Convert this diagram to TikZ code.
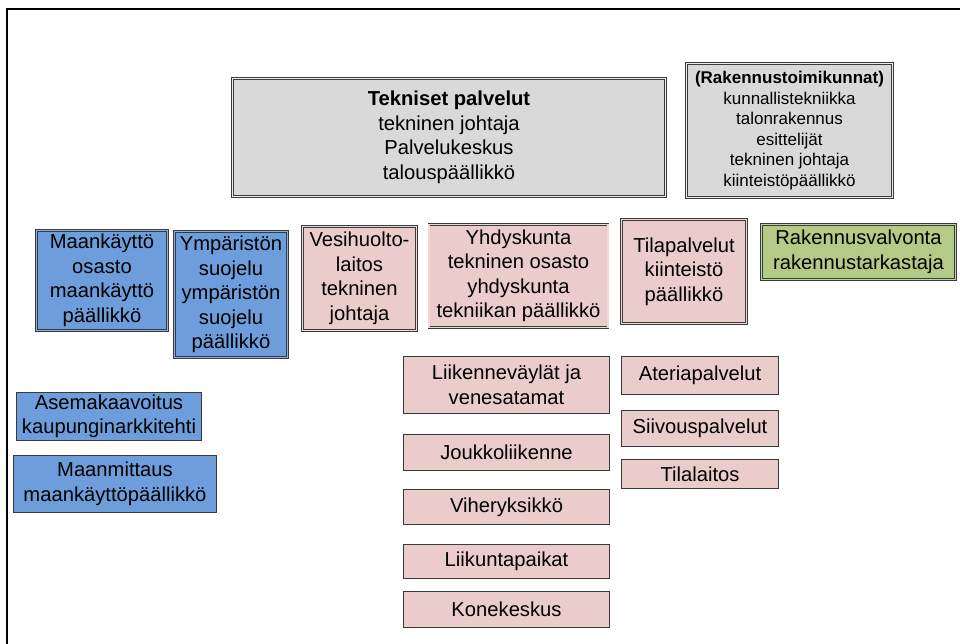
\documentclass[tikz,border=0pt]{standalone}
\usepackage{fontspec}
\setmainfont{Liberation Sans}
\definecolor{boxgray}{HTML}{D9D9D9}
\definecolor{boxblue}{HTML}{6D9EDB}
\definecolor{boxpink}{HTML}{EACCCB}
\definecolor{boxgreen}{HTML}{B4CB87}
\definecolor{edge}{HTML}{3A3A3A}
\begin{document}
\begin{tikzpicture}[x=1pt,y=-1pt,
  unit/.style={rectangle, inner sep=0pt, align=center, text=black,
    font=\fontsize{20.2}{24.5}\selectfont},
  dbl/.style={unit, draw=edge, line width=0.7pt, double distance=1.5pt},
  sgl/.style={unit, draw=edge, line width=1pt},
  graybox/.style={dbl, fill=boxgray, double=boxgray!50!white},
  bluebox/.style={dbl, fill=boxblue, double=boxblue!80!white},
  pinkbox/.style={dbl, fill=boxpink, double=boxpink!75!white},
  greenbox/.style={dbl, fill=boxgreen, double=boxgreen!80!white},
  bluesub/.style={sgl, fill=boxblue},
  pinksub/.style={sgl, fill=boxpink},
  frameline/.style={line width=2pt, draw=black}]
\useasboundingbox (0,0) rectangle (960,643);
\fill[white] (0,0) rectangle (960,643);
% outer frame (only its top and left edges fall inside the page)
\coordinate (fbl) at (7,660);
\coordinate (ftl) at (7,9);
\coordinate (ftr) at (975,9);
\draw[frameline] (fbl) -- (ftl) -- (ftr);

% top level
\node[graybox, minimum width=433pt, minimum height=118pt] (tek) at (449,137.5)
  {\textbf{Tekniset palvelut}\\tekninen johtaja\\Palvelukeskus\\talouspäällikkö};
\node[graybox, minimum width=206pt, minimum height=134pt,
      font=\fontsize{17}{20.5}\selectfont] (rtk) at (789.5,130.5)
  {\textbf{(Rakennustoimikunnat)}\\kunnallistekniikka\\talonrakennus\\esittelijät\\tekninen johtaja\\kiinteistöpäällikkö};

% departments
\node[bluebox, minimum width=131pt, minimum height=100pt] (maa) at (102,280.5)
  {Maankäyttö\\osasto\\maankäyttö\\päällikkö};
\node[bluebox, minimum width=113pt, minimum height=126pt] (ymp) at (231,294.5)
  {Ympäristön\\suojelu\\ympäristön\\suojelu\\päällikkö};
\node[pinkbox, minimum width=114pt, minimum height=104pt] (ves) at (359.5,278.5)
  {Vesihuolto-\\laitos\\tekninen\\johtaja};
\node[pinkbox, minimum width=179pt, minimum height=103pt] (yhd) at (518.5,276)
  {Yhdyskunta\\tekninen osasto\\yhdyskunta\\tekniikan päällikkö};
\node[pinkbox, minimum width=125pt, minimum height=104pt] (til) at (684,271.5)
  {Tilapalvelut\\kiinteistö\\päällikkö};
\node[greenbox, minimum width=194pt, minimum height=55pt] (rak) at (858.5,252)
  {Rakennusvalvonta\\rakennustarkastaja};

% units under land use
\node[bluesub, minimum width=185pt, minimum height=48pt] (ase) at (109,416.5)
  {Asemakaavoitus\\kaupunginarkkitehti};
\node[bluesub, minimum width=203pt, minimum height=57pt] (mmt) at (115,484)
  {Maanmittaus\\maankäyttöpäällikkö};

% units under municipal engineering
\node[pinksub, minimum width=206pt, minimum height=57pt] (lii) at (506.5,385)
  {Liikenneväylät ja\\venesatamat};
\node[pinksub, minimum width=206pt, minimum height=36pt] (jou) at (506.5,452.5)
  {Joukkoliikenne};
\node[pinksub, minimum width=206pt, minimum height=35pt] (vih) at (506.5,507)
  {Viheryksikkö};
\node[pinksub, minimum width=206pt, minimum height=34pt] (lip) at (506.5,561.5)
  {Liikuntapaikat};
\node[pinksub, minimum width=206pt, minimum height=36pt] (kon) at (506.5,609.5)
  {Konekeskus};

% units under facility services
\node[pinksub, minimum width=157pt, minimum height=38pt] (ate) at (700,375.5)
  {Ateriapalvelut};
\node[pinksub, minimum width=157pt, minimum height=36pt] (sii) at (700,428.5)
  {Siivouspalvelut};
\node[pinksub, minimum width=157pt, minimum height=29pt] (tla) at (700,474)
  {Tilalaitos};
\end{tikzpicture}
\end{document}
